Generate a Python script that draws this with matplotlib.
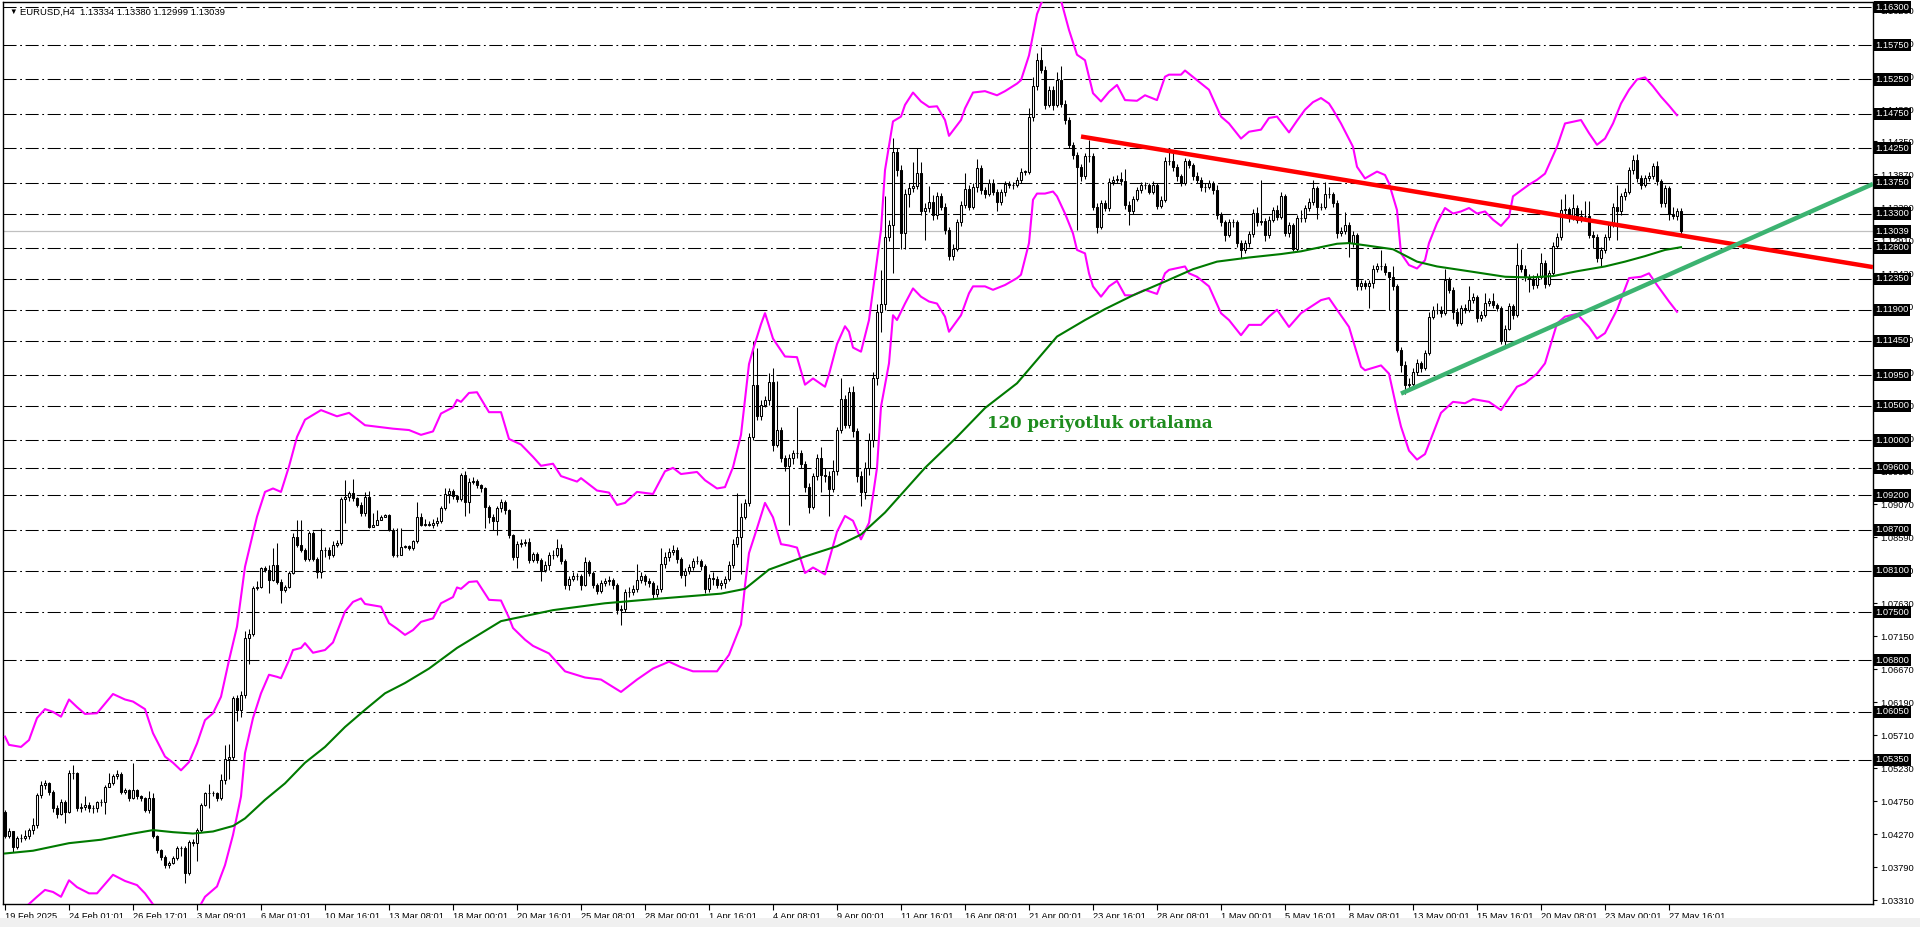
import matplotlib
matplotlib.use('Agg')
import matplotlib.pyplot as plt
from matplotlib.patches import Rectangle
import numpy as np

plt.rcParams['font.family'] = ['Liberation Sans', 'DejaVu Sans']
plt.rcParams['lines.scale_dashes'] = False

# EURUSD H4, 19 Feb - 27 May 2025 (okunan değerler)
first_open = 1.0460
closes = [
    1.0424, 1.0431, 1.0409, 1.0421, 1.0422, 1.0424, 1.0433, 1.0440, 1.0484, 1.0499,
    1.0501, 1.0489, 1.0465, 1.0457, 1.0474, 1.0460, 1.0516, 1.0516, 1.0465, 1.0467,
    1.0470, 1.0465, 1.0465, 1.0474, 1.0474, 1.0496, 1.0501, 1.0511, 1.0515, 1.0489,
    1.0491, 1.0479, 1.0491, 1.0482, 1.0479, 1.0462, 1.0479, 1.0424, 1.0404, 1.0394,
    1.0382, 1.0385, 1.0392, 1.0407, 1.0407, 1.0370, 1.0416, 1.0414, 1.0433, 1.0470,
    1.0487, 1.0487, 1.0487, 1.0479, 1.0506, 1.0536, 1.0540, 1.0625, 1.0608, 1.0630,
    1.0712, 1.0719, 1.0785, 1.0787, 1.0814, 1.0811, 1.0797, 1.0819, 1.0794, 1.0782,
    1.0787, 1.0807, 1.0860, 1.0848, 1.0841, 1.0828, 1.0865, 1.0828, 1.0809, 1.0841,
    1.0841, 1.0833, 1.0848, 1.0850, 1.0914, 1.0917, 1.0923, 1.0916, 1.0906, 1.0894,
    1.0918, 1.0874, 1.0877, 1.0884, 1.0889, 1.0891, 1.0870, 1.0833, 1.0833, 1.0845,
    1.0846, 1.0843, 1.0853, 1.0889, 1.0877, 1.0879, 1.0877,
    1.0880, 1.0883, 1.0901, 1.0922, 1.0927, 1.0919, 1.0914, 1.0950, 1.0911, 1.0940,
    1.0941, 1.0935, 1.0930, 1.0903, 1.0888, 1.0883, 1.0901, 1.0911, 1.0898, 1.0862,
    1.0831, 1.0849, 1.0851, 1.0852, 1.0826, 1.0834, 1.0826, 1.0812, 1.0819, 1.0833,
    1.0833, 1.0844, 1.0825, 1.0789, 1.0798, 1.0802, 1.0803, 1.0790, 1.0823, 1.0807,
    1.0790, 1.0781, 1.0792, 1.0795, 1.0797, 1.0789, 1.0753, 1.0754, 1.0779, 1.0779,
    1.0784, 1.0797, 1.0802, 1.0795, 1.0792, 1.0776, 1.0784, 1.0820, 1.0831, 1.0838,
    1.0841, 1.0828, 1.0804, 1.0810, 1.0816, 1.0825, 1.0825, 1.0817, 1.0784, 1.0800,
    1.0799, 1.0789, 1.0792, 1.0799, 1.0818, 1.0849, 1.0859, 1.0888, 1.0909, 1.1005,
    1.1080, 1.1036, 1.1052, 1.1059, 1.1085, 1.0993, 1.1015, 1.0974, 1.0963, 1.0975,
    1.0981, 1.0982, 1.0966, 1.0932, 1.0903, 1.0948, 1.0974, 1.0950, 1.0948, 1.0929,
    1.0955, 1.1015, 1.1060, 1.1023, 1.1070, 1.1013, 1.0948, 1.0925, 1.0960, 1.1000,
    1.1090, 1.1187, 1.1199, 1.1296, 1.1313, 1.1420, 1.1393, 1.1301, 1.1359, 1.1367,
    1.1370, 1.1389, 1.1333, 1.1338, 1.1347, 1.1328, 1.1355, 1.1340, 1.1306, 1.1268,
    1.1279, 1.1317, 1.1342, 1.1366, 1.1340, 1.1368, 1.1396, 1.1364, 1.1359, 1.1375,
    1.1362, 1.1347, 1.1361, 1.1373, 1.1372, 1.1371, 1.1379, 1.1391, 1.1391, 1.1470,
    1.1515, 1.1554, 1.1539, 1.1488, 1.1510, 1.1488, 1.1524, 1.1490, 1.1466, 1.1430,
    1.1415, 1.1398, 1.1384, 1.1413, 1.1413, 1.1340, 1.1311, 1.1345, 1.1338, 1.1376,
    1.1379, 1.1380, 1.1378, 1.1342, 1.1333, 1.1351, 1.1364, 1.1372, 1.1371, 1.1362,
    1.1372, 1.1341, 1.1350, 1.1406, 1.1406, 1.1398, 1.1384, 1.1374, 1.1406, 1.1401,
    1.1384, 1.1379, 1.1368, 1.1369, 1.1374, 1.1364, 1.1328, 1.1317, 1.1299, 1.1317,
    1.1317, 1.1287, 1.1277, 1.1287, 1.1300, 1.1331, 1.1318, 1.1319, 1.1299, 1.1321,
    1.1335, 1.1325, 1.1355, 1.1301, 1.1313, 1.1279, 1.1323, 1.1323, 1.1338, 1.1347,
    1.1367, 1.1340, 1.1340, 1.1359, 1.1358, 1.1345, 1.1301, 1.1305, 1.1313, 1.1287,
    1.1299, 1.1224, 1.1229, 1.1225, 1.1229, 1.1250, 1.1253, 1.1254, 1.1245, 1.1238,
    1.1224, 1.1132, 1.1110, 1.1081, 1.1082, 1.1100, 1.1112, 1.1105, 1.1127, 1.1180,
    1.1190, 1.1190, 1.1185, 1.1234, 1.1219, 1.1187, 1.1170, 1.1192, 1.1190, 1.1204,
    1.1208, 1.1178, 1.1183, 1.1200, 1.1202, 1.1197, 1.1192, 1.1144, 1.1162, 1.1196,
    1.1182, 1.1255, 1.1250, 1.1238, 1.1235, 1.1226, 1.1238, 1.1258, 1.1228, 1.1243,
    1.1283, 1.1296, 1.1335, 1.1336, 1.1323, 1.1338, 1.1321, 1.1326, 1.1327, 1.1299,
    1.1296, 1.1265, 1.1277, 1.1296, 1.1313, 1.1340, 1.1333, 1.1355, 1.1362, 1.1393,
    1.1408, 1.1381, 1.1372, 1.1381, 1.1385, 1.1399, 1.1377, 1.1345, 1.1367, 1.1329,
    1.1327, 1.13334, 1.13039,
]
highs = [
    1.0462, 1.0436, 1.0430, 1.0424, 1.0428, 1.0433, 1.0436, 1.0450, 1.0487, 1.0504,
    1.0506, 1.0503, 1.0491, 1.0470, 1.0478, 1.0477, 1.0520, 1.0527, 1.0518, 1.0473,
    1.0482, 1.0474, 1.0470, 1.0476, 1.0478, 1.0499, 1.0516, 1.0515, 1.0520, 1.0517,
    1.0494, 1.0493, 1.0530, 1.0493, 1.0484, 1.0481, 1.0490, 1.0487, 1.0426, 1.0406,
    1.0397, 1.0388, 1.0395, 1.0410, 1.0410, 1.0410, 1.0418, 1.0420, 1.0436, 1.0472,
    1.0489, 1.0500, 1.0490, 1.0489, 1.0515, 1.0557, 1.0558, 1.0628, 1.0630, 1.0635,
    1.0723, 1.0725, 1.0788, 1.0795, 1.0816, 1.0817, 1.0818, 1.0843, 1.0850, 1.0798,
    1.0790, 1.0810, 1.0865, 1.0884, 1.0884, 1.0843, 1.0868, 1.0868, 1.0830, 1.0872,
    1.0845, 1.0845, 1.0853, 1.0855, 1.0917, 1.0942, 1.0927, 1.0944, 1.0918, 1.0910,
    1.0925, 1.0926, 1.0895, 1.0898, 1.0892, 1.0893, 1.0893, 1.0872, 1.0872, 1.0872,
    1.0848, 1.0848, 1.0855, 1.0911, 1.0895, 1.0885, 1.0882,
    1.0886, 1.0888, 1.0905, 1.0930, 1.0930, 1.0929, 1.0921, 1.0953, 1.0955, 1.0945,
    1.0947, 1.0944, 1.0937, 1.0932, 1.0906, 1.0893, 1.0905, 1.0915, 1.0913, 1.0900,
    1.0864, 1.0853, 1.0856, 1.0857, 1.0858, 1.0838, 1.0838, 1.0829, 1.0825, 1.0838,
    1.0840, 1.0856, 1.0849, 1.0828, 1.0803, 1.0808, 1.0807, 1.0806, 1.0831, 1.0826,
    1.0810, 1.0793, 1.0797, 1.0800, 1.0802, 1.0800, 1.0792, 1.0760, 1.0784, 1.0786,
    1.0790, 1.0820, 1.0808, 1.0805, 1.0800, 1.0795, 1.0790, 1.0844, 1.0838, 1.0843,
    1.0848, 1.0845, 1.0830, 1.0815, 1.0820, 1.0829, 1.0832, 1.0828, 1.0820, 1.0805,
    1.0808, 1.0802, 1.0797, 1.0803, 1.0824, 1.0856, 1.0924, 1.0909, 1.0915, 1.1010,
    1.1145, 1.1135, 1.1058, 1.1064, 1.1098, 1.1105, 1.1087, 1.1020, 1.0978, 1.0980,
    1.0986, 1.1049, 1.0986, 1.0970, 1.0938, 1.0953, 1.0980, 1.0990, 1.0960, 1.0955,
    1.0972, 1.1020, 1.1090, 1.1066, 1.1078, 1.1079, 1.1018, 1.0955, 1.0968, 1.1010,
    1.1100, 1.1199, 1.1248, 1.1355, 1.1320, 1.1440, 1.1425, 1.1400, 1.1365, 1.1375,
    1.1405, 1.1425, 1.1405, 1.1345, 1.1370, 1.1357, 1.1362, 1.1360, 1.1345, 1.1310,
    1.1285, 1.1322, 1.1348, 1.1389, 1.1372, 1.1374, 1.1410, 1.1400, 1.1368, 1.1380,
    1.1380, 1.1366, 1.1366, 1.1378, 1.1377, 1.1376, 1.1383, 1.1396, 1.1394, 1.1483,
    1.1529, 1.1563, 1.1572, 1.1545, 1.1515, 1.1515, 1.1536, 1.1544, 1.1495, 1.1470,
    1.1434, 1.1420, 1.1402, 1.1418, 1.1437, 1.1418, 1.1345, 1.1350, 1.1350, 1.1382,
    1.1385, 1.1386, 1.1390, 1.1395, 1.1348, 1.1356, 1.1368, 1.1376, 1.1376, 1.1374,
    1.1377, 1.1375, 1.1355, 1.1412, 1.1423, 1.1423, 1.1402, 1.1388, 1.1411, 1.1410,
    1.1403, 1.1390, 1.1383, 1.1375, 1.1379, 1.1378, 1.1372, 1.1332, 1.1320, 1.1322,
    1.1322, 1.1320, 1.1292, 1.1292, 1.1305, 1.1336, 1.1340, 1.1379, 1.1324, 1.1326,
    1.1340, 1.1343, 1.1362, 1.1358, 1.1318, 1.1316, 1.1328, 1.1335, 1.1343, 1.1352,
    1.1379, 1.1370, 1.1346, 1.1376, 1.1369, 1.1362, 1.1350, 1.1310, 1.1332, 1.1318,
    1.1304, 1.1302, 1.1234, 1.1233, 1.1234, 1.1255, 1.1258, 1.1277, 1.1258, 1.1245,
    1.1254, 1.1228, 1.1136, 1.1115, 1.1090, 1.1105, 1.1118, 1.1116, 1.1132, 1.1186,
    1.1196, 1.1200, 1.1196, 1.1250, 1.1238, 1.1223, 1.1192, 1.1197, 1.1198, 1.1225,
    1.1215, 1.1212, 1.1188, 1.1215, 1.1207, 1.1215, 1.1200, 1.1196, 1.1168, 1.1200,
    1.1199, 1.1287, 1.1278, 1.1255, 1.1242, 1.1240, 1.1243, 1.1272, 1.1262, 1.1248,
    1.1288, 1.1301, 1.1351, 1.1359, 1.1340, 1.1359, 1.1342, 1.1335, 1.1348, 1.1348,
    1.1305, 1.1300, 1.1282, 1.1300, 1.1318, 1.1345, 1.1372, 1.1360, 1.1367, 1.1398,
    1.1415, 1.1416, 1.1386, 1.1386, 1.1390, 1.1404, 1.1406, 1.1380, 1.1372, 1.1370,
    1.1340, 1.1338, 1.13380,
]
lows = [
    1.0421, 1.0421, 1.0401, 1.0405, 1.0416, 1.0418, 1.0420, 1.0428, 1.0436, 1.0480,
    1.0493, 1.0484, 1.0460, 1.0450, 1.0455, 1.0443, 1.0458, 1.0508, 1.0461, 1.0460,
    1.0462, 1.0460, 1.0458, 1.0460, 1.0468, 1.0457, 1.0495, 1.0498, 1.0508, 1.0486,
    1.0485, 1.0475, 1.0478, 1.0478, 1.0475, 1.0460, 1.0458, 1.0421, 1.0400, 1.0390,
    1.0378, 1.0378, 1.0383, 1.0390, 1.0395, 1.0356, 1.0368, 1.0410, 1.0388, 1.0430,
    1.0468, 1.0465, 1.0483, 1.0475, 1.0477, 1.0500, 1.0507, 1.0535, 1.0592, 1.0597,
    1.0625, 1.0675, 1.0715, 1.0782, 1.0785, 1.0808, 1.0778, 1.0795, 1.0791, 1.0763,
    1.0780, 1.0785, 1.0805, 1.0845, 1.0837, 1.0825, 1.0825, 1.0825, 1.0800, 1.0800,
    1.0830, 1.0828, 1.0830, 1.0845, 1.0848, 1.0880, 1.0912, 1.0912, 1.0903, 1.0890,
    1.0890, 1.0872, 1.0874, 1.0880, 1.0886, 1.0889, 1.0868, 1.0830, 1.0830, 1.0840,
    1.0844, 1.0840, 1.0840, 1.0850, 1.0875, 1.0875, 1.0875,
    1.0872, 1.0876, 1.0880, 1.0898, 1.0909, 1.0914, 1.0910, 1.0912, 1.0890, 1.0895,
    1.0936, 1.0930, 1.0925, 1.0872, 1.0880, 1.0870, 1.0862, 1.0896, 1.0893, 1.0858,
    1.0826, 1.0815, 1.0845, 1.0847, 1.0822, 1.0823, 1.0821, 1.0795, 1.0808, 1.0812,
    1.0828, 1.0830, 1.0820, 1.0784, 1.0783, 1.0795, 1.0797, 1.0783, 1.0788, 1.0802,
    1.0785, 1.0776, 1.0778, 1.0788, 1.0790, 1.0784, 1.0748, 1.0732, 1.0750, 1.0772,
    1.0775, 1.0780, 1.0793, 1.0790, 1.0787, 1.0770, 1.0772, 1.0780, 1.0815, 1.0825,
    1.0833, 1.0822, 1.0800, 1.0788, 1.0805, 1.0812, 1.0820, 1.0812, 1.0778, 1.0780,
    1.0790, 1.0785, 1.0784, 1.0785, 1.0795, 1.0815, 1.0845, 1.0805, 1.0885, 1.0905,
    1.1000, 1.1030, 1.1030, 1.1048, 1.1052, 1.0985, 1.0990, 1.0968, 1.0955, 1.0877,
    1.0965, 1.0975, 1.0960, 1.0925, 1.0895, 1.0900, 1.0943, 1.0925, 1.0940, 1.0890,
    1.0925, 1.0950, 1.1010, 1.1018, 1.1018, 1.1005, 1.0940, 1.0905, 1.0915, 1.0950,
    1.0990, 1.1080, 1.1158, 1.1190, 1.1290, 1.1243, 1.1385, 1.1279, 1.1279, 1.1340,
    1.1362, 1.1365, 1.1328, 1.1292, 1.1332, 1.1320, 1.1322, 1.1335, 1.1300, 1.1262,
    1.1263, 1.1275, 1.1312, 1.1338, 1.1335, 1.1336, 1.1362, 1.1358, 1.1353, 1.1355,
    1.1357, 1.1333, 1.1342, 1.1356, 1.1367, 1.1366, 1.1368, 1.1375, 1.1386, 1.1387,
    1.1465, 1.1510, 1.1535, 1.1482, 1.1485, 1.1480, 1.1485, 1.1485, 1.1460, 1.1425,
    1.1410, 1.1306, 1.1378, 1.1380, 1.1405, 1.1335, 1.1302, 1.1308, 1.1333, 1.1333,
    1.1372, 1.1374, 1.1372, 1.1336, 1.1314, 1.1330, 1.1348, 1.1360, 1.1366, 1.1358,
    1.1358, 1.1336, 1.1338, 1.1347, 1.1400, 1.1392, 1.1378, 1.1370, 1.1372, 1.1396,
    1.1379, 1.1374, 1.1363, 1.1362, 1.1365, 1.1358, 1.1322, 1.1312, 1.1290, 1.1296,
    1.1310, 1.1282, 1.1265, 1.1272, 1.1282, 1.1296, 1.1312, 1.1314, 1.1290, 1.1295,
    1.1318, 1.1320, 1.1322, 1.1298, 1.1296, 1.1276, 1.1275, 1.1318, 1.1318, 1.1334,
    1.1343, 1.1322, 1.1335, 1.1336, 1.1352, 1.1340, 1.1294, 1.1298, 1.1300, 1.1267,
    1.1282, 1.1219, 1.1218, 1.1220, 1.1192, 1.1222, 1.1245, 1.1248, 1.1240, 1.1190,
    1.1218, 1.1128, 1.1100, 1.1068, 1.1075, 1.1078, 1.1095, 1.1100, 1.1102, 1.1124,
    1.1176, 1.1184, 1.1180, 1.1182, 1.1214, 1.1176, 1.1166, 1.1168, 1.1185, 1.1186,
    1.1200, 1.1172, 1.1173, 1.1180, 1.1196, 1.1192, 1.1188, 1.1140, 1.1138, 1.1160,
    1.1177, 1.1180, 1.1245, 1.1232, 1.1216, 1.1220, 1.1222, 1.1235, 1.1222, 1.1225,
    1.1240, 1.1280, 1.1292, 1.1330, 1.1318, 1.1320, 1.1316, 1.1318, 1.1320, 1.1294,
    1.1280, 1.1260, 1.1253, 1.1272, 1.1292, 1.1310, 1.1292, 1.1328, 1.1350, 1.1358,
    1.1388, 1.1376, 1.1366, 1.1368, 1.1378, 1.1380, 1.1372, 1.1340, 1.1340, 1.1320,
    1.1322, 1.1320, 1.12999,
]

# 120 periyotluk ortalama (yeşil)
ma_bars = [0, 7, 16, 24, 32, 37, 42, 47, 52, 57, 60, 65, 70, 75, 80, 85, 90, 95, 100, 106,
           113, 124, 137, 150, 162, 179, 185, 191, 200, 208, 214, 220, 230, 238, 245, 253,
           258, 263, 270, 275, 282, 290, 297, 303, 311, 319, 324, 333, 336, 341, 347, 353,
           358, 366, 375, 381, 387, 393, 400, 405, 410, 415, 419]
ma_vals = [1.0399, 1.0403, 1.0414, 1.0419, 1.0428, 1.0433, 1.0430, 1.0428, 1.0431, 1.0439,
           1.0450, 1.0477, 1.0501, 1.0531, 1.0554, 1.0583, 1.0608, 1.0632, 1.0647, 1.0668,
           1.0698, 1.0737, 1.0753, 1.0763, 1.0769, 1.0777, 1.0784, 1.0812, 1.0831, 1.0846,
           1.0863, 1.0895, 1.0960, 1.1005, 1.1047, 1.1083, 1.1117, 1.1151, 1.1175, 1.1191,
           1.1211, 1.1231, 1.1249, 1.1260, 1.1266, 1.1271, 1.1275, 1.1286, 1.1287, 1.1283,
           1.1278, 1.1260, 1.1253, 1.1246, 1.1238, 1.1237, 1.1239, 1.1246, 1.1253, 1.1260,
           1.1268, 1.1277, 1.1281]

# Bollinger üst bant (pembe)
ub_bars = [0, 1, 4, 6, 8, 10, 12, 14, 16, 18, 20, 23, 27, 30, 32, 35, 37, 40, 42, 44,
           46, 48, 50, 52, 54, 56, 58, 60, 63, 65, 67, 69, 71, 73, 75, 79, 83, 86, 90, 97,
           101, 104, 107, 109, 112, 113, 114, 116, 118, 121, 124, 126, 129, 132, 134, 137, 139, 143, 144, 148,
           151, 153, 155, 158, 162, 165, 167, 169, 173, 175, 178, 180, 182, 184, 186, 187, 189, 190, 192, 195,
           198, 200, 202, 205, 206, 208, 210, 211, 212, 214, 216, 219, 220, 222, 224, 225, 227, 229, 231, 233,
           235, 236, 239, 240, 242, 245, 248, 250, 253, 254, 256, 258, 260, 262, 264, 266, 268, 270, 272, 274,
           276, 278, 280, 283, 285, 288, 290, 291, 294, 295, 298, 301, 304, 306, 309, 311, 314, 316, 318, 321,
           323, 325, 327, 329, 331, 332, 334, 337, 338, 340, 343, 345, 346, 348, 349, 351, 353, 355, 356, 358,
           360, 362, 364, 366, 368, 370, 372, 374, 376, 377, 381, 383, 385, 388, 390, 394, 396, 398, 400, 402,
           404, 406, 408, 410, 412, 414, 416, 418]
ub_vals = [1.0569, 1.0557, 1.0554, 1.0564, 1.0596, 1.0609, 1.0605, 1.0598, 1.0623, 1.0612,
           1.0602, 1.0603, 1.0631, 1.0623, 1.0620, 1.0609, 1.0574, 1.0540, 1.0531, 1.0520,
           1.0532, 1.0559, 1.0593, 1.0603, 1.0627, 1.0680, 1.0729, 1.0816, 1.0889, 1.0925,
           1.0930, 1.0925, 1.0962, 1.1005, 1.1030, 1.1044, 1.1035, 1.1040, 1.1022, 1.1017,
           1.1015, 1.1008, 1.1013, 1.1039, 1.1048, 1.1059, 1.1056, 1.1069, 1.1070, 1.1041,
           1.1041, 1.1002, 1.0994, 1.0976, 1.0963, 1.0966, 1.0948, 1.0940, 1.0945, 1.0927,
           1.0924, 1.0906, 1.0909, 1.0925, 1.0922, 1.0955, 1.0960, 1.0951, 1.0954, 1.0942,
           1.0930, 1.0932, 1.0961, 1.1008, 1.1111, 1.1132, 1.1169, 1.1185, 1.1148, 1.1122,
           1.1121, 1.1081, 1.1090, 1.1078, 1.1096, 1.1140, 1.1166, 1.1158, 1.1135, 1.1129,
           1.1175, 1.1306, 1.1393, 1.1464, 1.1471, 1.1488, 1.1506, 1.1493, 1.1485, 1.1486,
           1.1466, 1.1443, 1.1466, 1.1483, 1.1506, 1.1508, 1.1502, 1.1508, 1.1519, 1.1524,
           1.1560, 1.1620, 1.1650, 1.1660, 1.1640, 1.1597, 1.1561, 1.1553, 1.1505, 1.1493,
           1.1507, 1.1517, 1.1495, 1.1494, 1.1502, 1.1495, 1.1529, 1.1532, 1.1532, 1.1538,
           1.1524, 1.1510, 1.1471, 1.1461, 1.1439, 1.1449, 1.1452, 1.1469, 1.1471, 1.1448,
           1.1465, 1.1481, 1.1492, 1.1498, 1.1490, 1.1481, 1.1461, 1.1427, 1.1398, 1.1381,
           1.1391, 1.1386, 1.1374, 1.1335, 1.1272, 1.1255, 1.1250, 1.1262, 1.1287, 1.1316,
           1.1338, 1.1330, 1.1333, 1.1338, 1.1330, 1.1333, 1.1321, 1.1312, 1.1325, 1.1355,
           1.1372, 1.1379, 1.1388, 1.1427, 1.1461, 1.1466, 1.1447, 1.1430, 1.1439, 1.1461,
           1.1490, 1.1510, 1.1525, 1.1528, 1.1515, 1.1500, 1.1487, 1.1473]

# Bollinger alt bant (pembe)
lb_bars = [0, 4, 8, 10, 12, 14, 16, 18, 21, 23, 27, 30, 33, 35, 37, 40, 44, 48, 50, 53,
           55, 57, 59, 60, 62, 64, 66, 68, 69, 71, 72, 74, 75, 77, 80, 82, 85, 87, 89, 90,
           94, 96, 98, 100, 102, 104, 107, 109, 112, 113, 114, 116, 118, 121, 124, 126, 127, 130, 132, 136,
           140, 145, 149, 154, 158, 162, 166, 169, 172, 178, 181, 184, 185, 186, 188, 190, 192, 194, 196, 198,
           200, 202, 205, 207, 208, 210, 212, 214, 216, 218, 219, 221, 222, 223, 225, 227, 229, 231, 233, 235,
           236, 239, 241, 242, 245, 247, 250, 253, 254, 256, 257, 258, 260, 262, 263, 265, 267, 268, 270, 271,
           272, 274, 276, 278, 280, 282, 285, 288, 290, 291, 295, 296, 298, 301, 304, 306, 309, 311, 314, 316,
           318, 321, 324, 329, 331, 333, 336, 339, 340, 344, 346, 348, 349, 351, 353, 355, 357, 359, 362, 365,
           367, 371, 374, 378, 380, 383, 385, 388, 390, 393, 396, 398, 400, 403, 406, 409, 411, 413, 416, 418]
lb_vals = [1.0310, 1.0315, 1.0336, 1.0346, 1.0343, 1.0336, 1.0360, 1.0350, 1.0341, 1.0341,
           1.0368, 1.0359, 1.0353, 1.0341, 1.0325, 1.0305, 1.0298, 1.0315, 1.0336, 1.0351,
           1.0382, 1.0426, 1.0482, 1.0545, 1.0596, 1.0632, 1.0659, 1.0656, 1.0654, 1.0680,
           1.0695, 1.0698, 1.0705, 1.0691, 1.0695, 1.0706, 1.0751, 1.0765, 1.0770, 1.0762,
           1.0758, 1.0734, 1.0726, 1.0717, 1.0724, 1.0736, 1.0741, 1.0763, 1.0772, 1.0786,
           1.0784, 1.0794, 1.0795, 1.0768, 1.0767, 1.0742, 1.0727, 1.0710, 1.0701, 1.0690,
           1.0664, 1.0655, 1.0652, 1.0634, 1.0652, 1.0668, 1.0678, 1.0670, 1.0664, 1.0664,
           1.0688, 1.0732, 1.0789, 1.0836, 1.0872, 1.0909, 1.0888, 1.0849, 1.0847, 1.0844,
           1.0807, 1.0815, 1.0805, 1.0846, 1.0867, 1.0890, 1.0883, 1.0856, 1.0880, 1.0960,
           1.1049, 1.1112, 1.1182, 1.1175, 1.1199, 1.1221, 1.1209, 1.1202, 1.1199, 1.1180,
           1.1158, 1.1182, 1.1214, 1.1224, 1.1224, 1.1219, 1.1226, 1.1236, 1.1241, 1.1287,
           1.1350, 1.1359, 1.1359, 1.1362, 1.1355, 1.1330, 1.1301, 1.1277, 1.1272, 1.1243,
           1.1224, 1.1209, 1.1224, 1.1232, 1.1211, 1.1211, 1.1219, 1.1213, 1.1243, 1.1248,
           1.1253, 1.1243, 1.1238, 1.1224, 1.1185, 1.1175, 1.1153, 1.1168, 1.1168, 1.1180,
           1.1190, 1.1165, 1.1185, 1.1204, 1.1207, 1.1190, 1.1165, 1.1107, 1.1102, 1.1109,
           1.1097, 1.1044, 1.1020, 1.0985, 1.0972, 1.0980, 1.1010, 1.1040, 1.1056, 1.1054,
           1.1060, 1.1056, 1.1044, 1.1078, 1.1083, 1.1097, 1.1112, 1.1170, 1.1180, 1.1184,
           1.1165, 1.1148, 1.1156, 1.1190, 1.1236, 1.1238, 1.1243, 1.1226, 1.1202, 1.1187]

# trend çizgileri (uç noktaları)
red_line_bars = [269, 467]
red_line_prices = [1.1442, 1.1252]
green_line_bars = [349, 467]
green_line_prices = [1.1068, 1.1373]

grid_levels = [1.1630, 1.1575, 1.1525, 1.1475, 1.1425, 1.1375, 1.1330, 1.1280, 1.1235, 1.1190,
               1.1145, 1.1095, 1.1050, 1.1000, 1.0960, 1.0920, 1.0870, 1.0810, 1.0750, 1.0680,
               1.0605, 1.0535]
scale_ticks = [1.0331, 1.0379, 1.0427, 1.0475, 1.0523, 1.0571, 1.0619, 1.0667, 1.0715, 1.0763,
               1.0811, 1.0859, 1.0907, 1.0955, 1.1003, 1.1051, 1.1099, 1.1147, 1.1195, 1.1243,
               1.1291, 1.1339, 1.1387, 1.1435, 1.1482, 1.1530, 1.1578, 1.1626]
last_price = 1.13039

x_labels = ['19 Feb 2025', '24 Feb 01:01', '26 Feb 17:01', '3 Mar 09:01', '6 Mar 01:01',
            '10 Mar 16:01', '13 Mar 08:01', '18 Mar 00:01', '20 Mar 16:01', '25 Mar 08:01',
            '28 Mar 00:01', '1 Apr 16:01', '4 Apr 08:01', '9 Apr 00:01', '11 Apr 16:01',
            '16 Apr 08:01', '21 Apr 00:01', '23 Apr 16:01', '28 Apr 08:01', '1 May 00:01',
            '5 May 16:01', '8 May 08:01', '13 May 00:01', '15 May 16:01', '20 May 08:01',
            '23 May 00:01', '27 May 16:01']
x_label_bars = [0, 16, 32, 48, 64, 80, 96, 112, 128, 144, 160, 176, 192, 208, 224,
                240, 256, 272, 288, 304, 320, 336, 352, 368, 384, 400, 416]

# ---- çizim ----
n = len(closes)
x = np.arange(n)
o = np.array([first_open] + closes[:-1])
c = np.array(closes)
h = np.maximum.reduce([np.array(highs), o, c])
l = np.minimum.reduce([np.array(lows), o, c])

fig = plt.figure(figsize=(19.2, 9.27), dpi=100)
W, H = 1920, 927
ax = fig.add_axes([3 / W, 1 - 904 / H, (1873 - 3) / W, (904 - 2) / H])
ax.set_xlim(-0.5, 467)
ax.set_ylim(1.03255, 1.16377)

for lv in grid_levels:
    ax.axhline(lv, color='black', lw=0.75, dashes=(9.4, 2.6, 1.3, 2.6), zorder=1)
ax.axhline(last_price, color='#c0c0c0', lw=0.9, zorder=1.5)

# mumlar
ax.vlines(x, l, h, color='black', lw=0.75, zorder=3)
up = c >= o
body = np.maximum(np.abs(c - o), 0.00002)
ax.bar(x[up], body[up], bottom=np.minimum(o, c)[up], width=0.7, color='white',
       edgecolor='black', linewidth=0.75, zorder=3.1)
ax.bar(x[~up], body[~up], bottom=np.minimum(o, c)[~up], width=0.7, color='black',
       edgecolor='black', linewidth=0.75, zorder=3.1)

ax.plot(ub_bars, ub_vals, color='#ff00ff', lw=1.5, zorder=4)
ax.plot(lb_bars, lb_vals, color='#ff00ff', lw=1.5, zorder=4)
ax.plot(ma_bars, ma_vals, color='#007a00', lw=1.5, zorder=4)
ax.plot(red_line_bars, red_line_prices, color='#ff0000', lw=3.2, zorder=5, solid_capstyle='butt')
ax.plot(green_line_bars, green_line_prices, color='#3cb371', lw=3.2, zorder=5, solid_capstyle='butt')

ax.text(245.5, 1.1024, '120 periyotluk ortalama', color='#1e8c1e', fontsize=12,
        fontweight='bold', family=['DejaVu Serif'], va='center', ha='left', zorder=6)

# eksenler
for sp in ax.spines.values():
    sp.set_color('black')
    sp.set_linewidth(1)
ax.yaxis.tick_right()
ax.set_yticks(scale_ticks)
ax.set_yticklabels(['%.5f' % v for v in scale_ticks])
ax.tick_params(axis='y', length=3, labelsize=6.7, pad=2, colors='black')
ax.set_xticks(x_label_bars)
ax.set_xticklabels(x_labels)
ax.tick_params(axis='x', length=4, labelsize=6.7, pad=2, colors='black')
for lbl in ax.get_xticklabels():
    lbl.set_ha('left')

ytr = ax.get_yaxis_transform()
for lv in grid_levels + [last_price]:
    ax.text(1.0012, lv, '%.5f' % lv, transform=ytr, color='white', fontsize=6.7,
            va='center', ha='left', clip_on=False, zorder=10,
            bbox=dict(boxstyle='square,pad=0.18', fc='black', ec='none'))

fig.text(9 / W, 1 - 12 / H, '\u25bc', fontsize=5.5, va='center', ha='left')
fig.text(20 / W, 1 - 12 / H, 'EURUSD,H4  1.13334 1.13380 1.12999 1.13039',
         fontsize=6.8, va='center', ha='left')
fig.patches.append(Rectangle((0, 0), 1, 9 / H, transform=fig.transFigure,
                             fc='#f0f0f0', ec='none'))

fig.savefig('out.png', dpi=100)
